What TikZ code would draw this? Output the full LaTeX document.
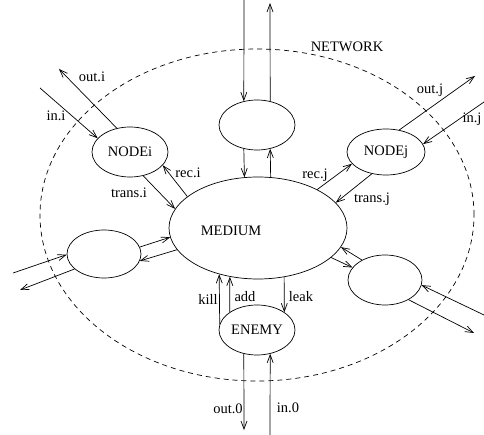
\documentclass[tikz,border=0pt]{standalone}
\usepackage{fontspec}
\setmainfont{Liberation Serif}
\usetikzlibrary{shapes, arrows.meta, positioning, calc}

\begin{document}
\begin{tikzpicture}[
    x=1pt, y=-1pt,
    line width=0.7pt,
    every node/.style={font=\fontsize{14.5}{16}\selectfont},
    proc/.style={ellipse, draw, minimum width=76pt, minimum height=50pt, inner sep=0pt},
    lbl/.style={inner sep=0pt},
    arrow/.style={-{Straight Barb[length=8pt, width=6pt]}}
]
\useasboundingbox (0,0) rectangle (484,435);

% Nodes
\node[ellipse, draw, dash pattern=on 5pt off 4pt, minimum width=434pt, minimum height=332pt] (network) at (257,215) {};
\node[proc, minimum width=178pt, minimum height=102pt, label={[xshift=-27pt, yshift=-3pt]center:MEDIUM}] (medium) at (258,228) {};
\node[proc] (top) at (257,125) {};
\node[proc] (nodei) at (130,152) {NODEi};
\node[proc, minimum width=78pt, minimum height=46pt] (nodej) at (386,152) {NODEj};
\node[proc, minimum width=74pt, minimum height=48pt] (left) at (104,254) {};
\node[proc, minimum width=74pt] (right) at (385,280) {};
\node[proc] (enemy) at (257,330) {ENEMY};

% Free ends
\coordinate (topin) at (244,0);
\coordinate (topout) at (270,3);
\coordinate (iniin) at (40,88);
\coordinate (outiout) at (59,69);
\coordinate (outjout) at (475,76);
\coordinate (injin) at (484,102);
\coordinate (leftin) at (13,273);
\coordinate (leftout) at (20,290);
\coordinate (rightin) at (484,315);
\coordinate (rightout) at (474,333);
\coordinate (outzero) at (244,430);
\coordinate (inzero) at (270,435);

% Labels
\node[lbl] (netname) at (347,47) {NETWORK};
\node[lbl] (outilbl) at (92,77) {out.i};
\node[lbl] (inilbl) at (56,116) {in.i};
\node[lbl] (recilbl) at (188,173) {rec.i};
\node[lbl] (transilbl) at (129,193) {trans.i};
\node[lbl] (recjlbl) at (315,175) {rec.j};
\node[lbl] (transjlbl) at (372,199) {trans.j};
\node[lbl] (outjlbl) at (430,90) {out.j};
\node[lbl] (injlbl) at (472,119) {in.j};
\node[lbl] (killlbl) at (208,299) {kill};
\node[lbl] (addlbl) at (245,297) {add};
\node[lbl] (leaklbl) at (301,297) {leak};
\node[lbl] (outzerolbl) at (228,409) {out.0};
\node[lbl] (inzerolbl) at (288,408) {in.0};

% Arrows
\draw[arrow] (topin) -- (top.119);
\draw[arrow] (top.61) -- (topout);
\draw[arrow] (top.241) -- (medium.105.5);
\draw[arrow] (medium.76.6) -- (top.299);

\draw[arrow] (iniin) -- (nodei.157);
\draw[arrow] (nodei.119) -- (outiout);
\draw[arrow] (medium.156) -- (nodei.-22);
\draw[arrow] (nodei.-61) -- (medium.167);

\draw[arrow] (medium.33) -- (nodej.199);
\draw[arrow] (nodej.237) -- (medium.18.7);
\draw[arrow] (nodej.59) -- (outjout);
\draw[arrow] (injin) -- (nodej.12);

\draw[arrow] (leftin) -- (left.181);
\draw[arrow] (left.207) -- (leftout);
\draw[arrow] (left.11) -- (medium.186.5);
\draw[arrow] (medium.195) -- (left.349);

\draw[arrow] (medium.338) -- (right.159);
\draw[arrow] (right.139) -- (medium.347);
\draw[arrow] (rightin) -- (right.352);
\draw[arrow] (right.320) -- (rightout);

\draw[arrow] (enemy.171) -- (medium.230.5);
\draw[arrow] (enemy.147) -- (medium.240);
\draw[arrow] (medium.298) -- (enemy.33);
\draw[arrow] (enemy.241) -- (outzero);
\draw[arrow] (inzero) -- (enemy.299);

\end{tikzpicture}
\end{document}
